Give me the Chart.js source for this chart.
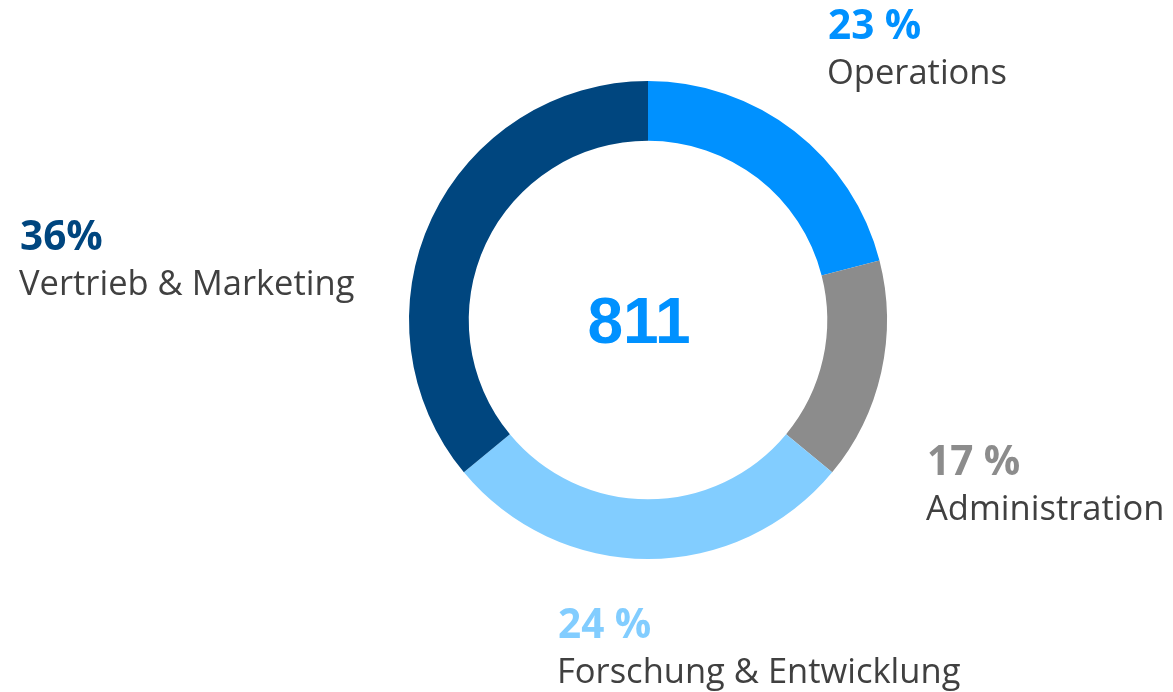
<!DOCTYPE html>
<html>
<head>
<meta charset="utf-8">
<script src="https://cdn.jsdelivr.net/npm/chart.js@4"></script>
<style>
  html, body { margin: 0; padding: 0; background: #ffffff; }
  #wrap { width: 1173px; height: 692px; position: relative; }
</style>
</head>
<body>
<div id="wrap"><canvas id="c" width="1173" height="692"></canvas></div>
<script>
const categories = ["Operations", "Administration", "Forschung & Entwicklung", "Vertrieb & Marketing"];
const values = [21, 15, 28, 36];
const percentLabels = ["23 %", "17 %", "24 %", "36%"];
const colors = ["#0091FF", "#8C8C8C", "#82CDFF", "#00467F"];
const centerTotal = "811";

const labelPos = [
  { x: 828, y: 39 },
  { x: 927, y: 475 },
  { x: 558, y: 638 },
  { x: 20, y: 250 }
];

const labelPlugin = {
  id: 'labels',
  afterDraw(chart) {
    const ctx = chart.ctx;
    ctx.save();
    ctx.textBaseline = 'alphabetic';
    ctx.textAlign = 'left';
    categories.forEach((name, i) => {
      const p = labelPos[i];
      ctx.fillStyle = colors[i];
      ctx.font = 'bold 40.5px "Open Sans"';
      ctx.fillText(percentLabels[i], p.x, p.y);
      ctx.fillStyle = '#404040';
      ctx.font = '34.5px "Open Sans"';
      ctx.fillText(name, p.x - 1, p.y + 45);
    });
    const meta = chart.getDatasetMeta(0).data[0];
    ctx.fillStyle = '#0091FF';
    ctx.textAlign = 'center';
    ctx.font = 'bold 64px "Liberation Sans"';
    ctx.fillText(centerTotal, meta.x - 9, meta.y + 23);
    ctx.restore();
  }
};

new Chart(document.getElementById('c'), {
  type: 'doughnut',
  data: {
    labels: categories,
    datasets: [{
      data: values,
      backgroundColor: colors,
      borderWidth: 0,
      hoverOffset: 0
    }]
  },
  options: {
    responsive: false,
    animation: false,
    cutout: '75%',
    layout: { padding: { left: 409, right: 286, top: 81, bottom: 133 } },
    plugins: { legend: { display: false }, tooltip: { enabled: false } }
  },
  plugins: [labelPlugin]
});
</script>
</body>
</html>
